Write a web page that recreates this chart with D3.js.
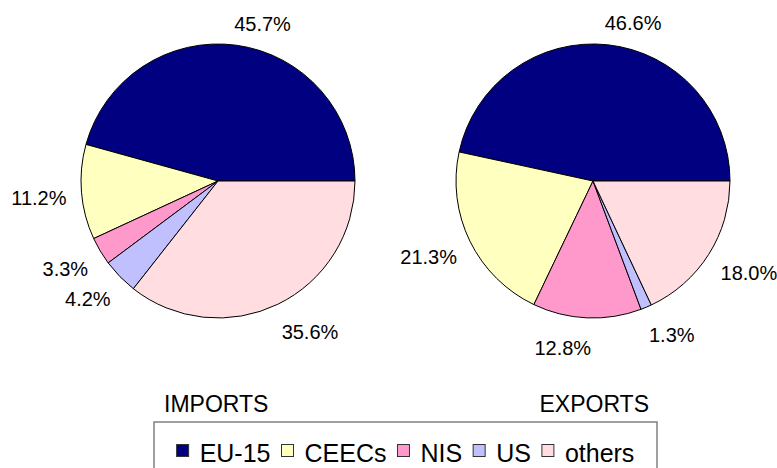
<!DOCTYPE html>
<html>
<head>
<meta charset="utf-8">
<script src="https://cdn.jsdelivr.net/npm/d3@7"></script>
<style>
  body { margin: 0; background: #fff; }
  svg { display: block; font-family: Arial, "Liberation Sans", sans-serif; }
</style>
</head>
<body>
<svg width="777" height="468"></svg>
<script>
var categories = ["EU-15", "CEECs", "NIS", "US", "others"];
var importShares = [45.7, 11.2, 3.3, 4.2, 35.6];
var exportShares = [46.6, 21.3, 12.8, 1.3, 18.0];
var sliceColors = ["#000080", "#FFFFC0", "#FF99CC", "#C0C0FF", "#FFDDE0"];
var panelTitles = ["IMPORTS", "EXPORTS"];

var svg = d3.select("svg");

var radius = 137;
var centers = [{x: 218, y: 181}, {x: 593, y: 181}];

var color = d3.scaleOrdinal()
              .domain(categories)
              .range(sliceColors);

// excel style: start at 3 o'clock, run counter-clockwise
var pie = d3.pie()
            .sort(null)
            .value(function(d){return d.value;})
            .startAngle(Math.PI/2)
            .endAngle(Math.PI/2 - 2*Math.PI);

var arc = d3.arc().innerRadius(0).outerRadius(radius);

var drawPie = function(values, center)
{
  var data = categories.map(function(c, i){return {name: c, value: values[i]};});
  var arcs = pie(data);

  var g = svg.append("g")
             .attr("transform", "translate(" + center.x + "," + center.y + ")");

  g.selectAll("path")
   .data(arcs)
   .enter()
   .append("path")
   .attr("d", arc)
   .attr("fill", function(d){return color(d.data.name);})
   .attr("stroke", "#000")
   .attr("stroke-width", 1);

  var fs = 20;
  g.selectAll("text")
   .data(arcs)
   .enter()
   .append("text")
   .attr("font-size", fs)
   .attr("fill", "#000")
   .attr("text-anchor", function(d)
   {
     var a = (d.startAngle + d.endAngle)/2;
     return Math.sin(a) > 0 ? "start" : "end";
   })
   .attr("x", function(d)
   {
     var a = (d.startAngle + d.endAngle)/2;
     var px = (radius + 20)*Math.sin(a);
     return Math.sin(a) > 0 ? px - 5 : px + 5;
   })
   .attr("y", function(d)
   {
     var a = (d.startAngle + d.endAngle)/2;
     return -(radius + 26)*Math.cos(a) + 4 + fs*0.36;
   })
   .text(function(d){return d.data.value.toFixed(1) + "%";});
};

drawPie(importShares, centers[0]);
drawPie(exportShares, centers[1]);

// panel titles
svg.append("text")
   .attr("x", 164).attr("y", 412)
   .attr("font-size", 23)
   .text(panelTitles[0]);
svg.append("text")
   .attr("x", 649).attr("y", 412)
   .attr("font-size", 23)
   .attr("text-anchor", "end")
   .text(panelTitles[1]);

// legend
var box = {x: 154, y: 422, w: 503, h: 70};
svg.append("rect")
   .attr("x", box.x).attr("y", box.y)
   .attr("width", box.w).attr("height", box.h)
   .attr("fill", "#fff")
   .attr("stroke", "#808080")
   .attr("stroke-width", 1.5);

var legend = svg.append("g");
var sw = 12, gapIn = 11, gapOut = 11;
var items = legend.selectAll("g")
                  .data(categories)
                  .enter()
                  .append("g");
items.append("rect")
     .attr("width", sw).attr("height", sw)
     .attr("y", 444.5)
     .attr("fill", function(d){return color(d);})
     .attr("stroke", "#333")
     .attr("stroke-width", 1);
items.append("text")
     .attr("font-size", 25)
     .attr("y", 462)
     .text(function(d){return d;});

var xPos = 0;
items.each(function()
{
  var item = d3.select(this);
  var tw = item.select("text").node().getComputedTextLength();
  item.select("rect").attr("x", xPos);
  item.select("text").attr("x", xPos + sw + gapIn);
  xPos += sw + gapIn + tw + gapOut;
});
var total = xPos - gapOut;
legend.attr("transform", "translate(" + (box.x + box.w/2 - total/2) + ",0)");
</script>
</body>
</html>
